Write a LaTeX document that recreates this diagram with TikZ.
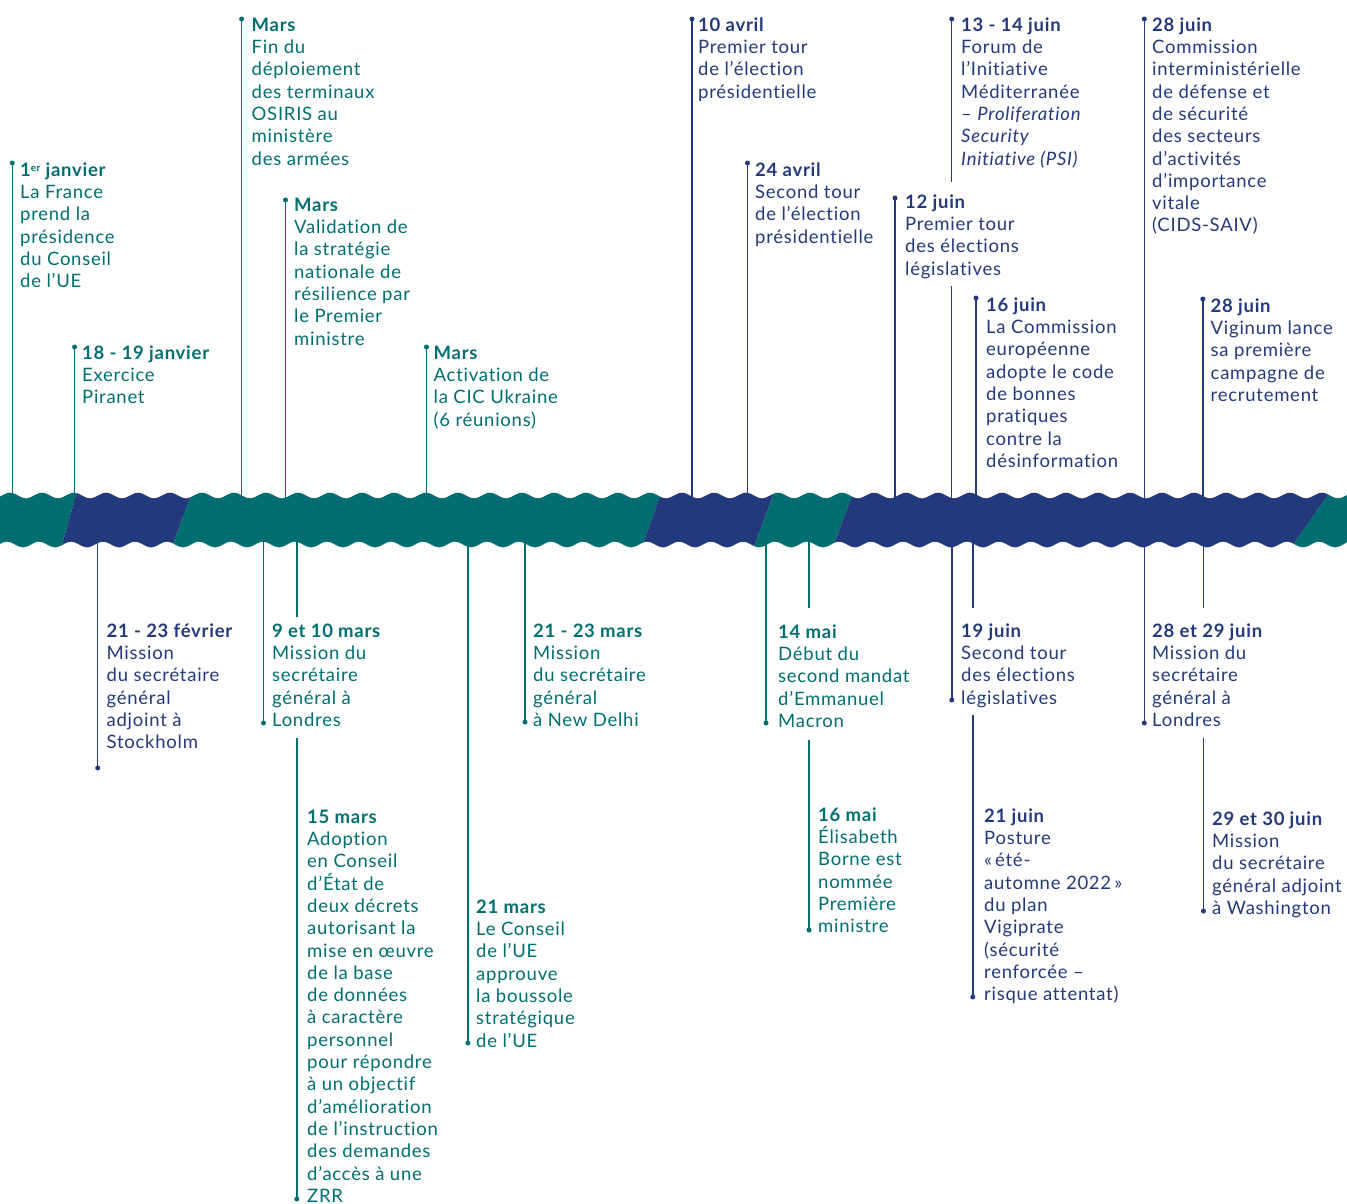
\documentclass[tikz,border=0pt]{standalone}
\usepackage{fontspec}
\setmainfont{Lato}[LetterSpace=4.0, Ligatures=NoCommon]
\definecolor{tlteal}{RGB}{0,110,112}
\definecolor{tlnavy}{RGB}{36,57,124}
\newcommand\tlsup[1]{\raisebox{4.5pt}{\fontsize{10}{10}\selectfont #1}}
\tikzset{
  tl/.style={line width=1.4pt},
  dotm/.style={circle, inner sep=0pt, minimum size=5pt},
  lbl/.style={anchor=north west, align=left, inner sep=0pt, font=\fontsize{18.5}{22.3}\selectfont},
  tc/.style={text=tlteal},
  nc/.style={text=tlnavy}
}
\begin{document}
\begin{tikzpicture}[x=1pt,y=-1pt]
\useasboundingbox (0,0) rectangle (1347,1203);

% ---------- connectors above the band ----------
\node[dotm, fill=tlteal] (d1) at (12.3,163) {};
\coordinate (e1) at (12.3,520);
\draw[tl, tlteal] (d1.center) -- (e1);

\node[dotm, fill=tlteal] (d2) at (74.6,347) {};
\coordinate (e2) at (74.6,520);
\draw[tl, tlteal] (d2.center) -- (e2);

\node[dotm, fill=tlteal] (d3) at (241.6,19) {};
\coordinate (e3) at (241.6,520);
\draw[tl, tlteal] (d3.center) -- (e3);

\node[dotm, fill=tlteal] (d4) at (285.5,200) {};
\coordinate (e4) at (285.5,520);
\draw[tl, tlteal] (d4.center) -- (e4);

\node[dotm, fill=tlteal] (d5) at (426.5,347) {};
\coordinate (e5) at (426.5,520);
\draw[tl, tlteal] (d5.center) -- (e5);

\node[dotm, fill=tlnavy] (d6) at (692,19) {};
\coordinate (e6) at (692,520);
\draw[tl, tlnavy] (d6.center) -- (e6);

\node[dotm, fill=tlnavy] (d7) at (747.5,163) {};
\coordinate (e7) at (747.5,520);
\draw[tl, tlnavy] (d7.center) -- (e7);

\node[dotm, fill=tlnavy] (d8) at (895,198) {};
\coordinate (e8) at (895,520);
\draw[tl, tlnavy] (d8.center) -- (e8);

\node[dotm, fill=tlnavy] (d9) at (951.7,19) {};
\coordinate (b9a) at (951.7,182);
\coordinate (b9b) at (951.7,286);
\coordinate (e9) at (951.7,520);
\draw[tl, tlnavy] (d9.center) -- (b9a);
\draw[tl, tlnavy] (b9b) -- (e9);

\node[dotm, fill=tlnavy] (d10) at (976,298) {};
\coordinate (e10) at (976,520);
\draw[tl, tlnavy] (d10.center) -- (e10);

\node[dotm, fill=tlnavy] (d11) at (1144.3,19) {};
\coordinate (e11) at (1144.3,520);
\draw[tl, tlnavy] (d11.center) -- (e11);

\node[dotm, fill=tlnavy] (d12) at (1202.8,299) {};
\coordinate (e12) at (1202.8,520);
\draw[tl, tlnavy] (d12.center) -- (e12);

% ---------- connectors below the band ----------
\coordinate (s13) at (97.7,520);
\node[dotm, fill=tlnavy] (d13) at (97.7,768) {};
\draw[tl, tlnavy] (s13) -- (d13.center);

\coordinate (s14) at (263.5,520);
\node[dotm, fill=tlteal] (d14) at (263.5,723) {};
\draw[tl, tlteal] (s14) -- (d14.center);

\coordinate (s15) at (296.8,520);
\coordinate (b15a) at (296.8,617);
\coordinate (b15b) at (296.8,738);
\node[dotm, fill=tlteal] (d15) at (296.8,1199) {};
\draw[tl, tlteal] (s15) -- (b15a);
\draw[tl, tlteal] (b15b) -- (d15.center);

\coordinate (s16) at (467.8,520);
\node[dotm, fill=tlteal] (d16) at (467.8,1043) {};
\draw[tl, tlteal] (s16) -- (d16.center);

\coordinate (s17) at (525,520);
\node[dotm, fill=tlteal] (d17) at (525,722) {};
\draw[tl, tlteal] (s17) -- (d17.center);

\coordinate (s18) at (766,520);
\node[dotm, fill=tlteal] (d18) at (766,723) {};
\draw[tl, tlteal] (s18) -- (d18.center);

\coordinate (s19) at (809,520);
\coordinate (b19a) at (809,608);
\coordinate (b19b) at (809,740);
\node[dotm, fill=tlteal] (d19) at (809,930) {};
\draw[tl, tlteal] (s19) -- (b19a);
\draw[tl, tlteal] (b19b) -- (d19.center);

\coordinate (s20) at (951.8,520);
\node[dotm, fill=tlnavy] (d20) at (951.8,700) {};
\draw[tl, tlnavy] (s20) -- (d20.center);

\coordinate (s21) at (972.8,520);
\coordinate (b21a) at (972.8,608);
\coordinate (b21b) at (972.8,715);
\node[dotm, fill=tlnavy] (d21) at (972.8,997) {};
\draw[tl, tlnavy] (s21) -- (b21a);
\draw[tl, tlnavy] (b21b) -- (d21.center);

\coordinate (s22) at (1144.3,520);
\node[dotm, fill=tlnavy] (d22) at (1144.3,723) {};
\draw[tl, tlnavy] (s22) -- (d22.center);

\coordinate (s23) at (1203.5,520);
\coordinate (b23a) at (1203.5,608);
\coordinate (b23b) at (1203.5,738);
\node[dotm, fill=tlnavy] (d23) at (1203.5,911) {};
\draw[tl, tlnavy] (s23) -- (b23a);
\draw[tl, tlnavy] (b23b) -- (d23.center);

% ---------- wavy band ----------
\begin{scope}
\path[clip] plot[domain=0:1347, samples=700] (\x, {495.5-2.8*cos(11.25*(\x-10))})
  -- plot[domain=1347:0, samples=700] (\x, {544.5+2.8*cos(11.25*(\x-23))}) -- cycle;
\fill[tlteal] (-5,485) -- (79,485) -- (59,555) -- (-5,555) -- cycle;
\fill[tlnavy] (79,485) -- (195,485) -- (169,555) -- (59,555) -- cycle;
\fill[tlteal] (195,485) -- (664,485) -- (639,555) -- (169,555) -- cycle;
\fill[tlnavy] (664,485) -- (777,485) -- (751,555) -- (639,555) -- cycle;
\fill[tlteal] (777,485) -- (856,485) -- (830,555) -- (751,555) -- cycle;
\fill[tlnavy] (856,485) -- (1335,485) -- (1286,555) -- (830,555) -- cycle;
\fill[tlteal] (1335,485) -- (1352,485) -- (1352,555) -- (1286,555) -- cycle;
\end{scope}

% ---------- labels above ----------
\node[lbl, tc] (t1) at (20,158) {\rule{0pt}{18pt}\textbf{1\tlsup{er} janvier}\\La France\\prend la\\présidence\\du Conseil\\de l’UE};
\node[lbl, tc] (t2) at (82,341) {\rule{0pt}{18pt}\textbf{18 - 19 janvier}\\Exercice\\Piranet};
\node[lbl, tc] (t3) at (251.5,13) {\rule{0pt}{18pt}\textbf{Mars}\\Fin du\\déploiement\\des terminaux\\OSIRIS au\\ministère\\des armées};
\node[lbl, tc] (t4) at (294,193) {\rule{0pt}{18pt}\textbf{Mars}\\Validation de\\la stratégie\\nationale de\\résilience par\\le Premier\\ministre};
\node[lbl, tc] (t5) at (433.5,341) {\rule{0pt}{18pt}\textbf{Mars}\\Activation de\\la CIC Ukraine\\(6 réunions)};
\node[lbl, nc] (t6) at (698,13) {\rule{0pt}{18pt}\textbf{10 avril}\\Premier tour\\de l’élection\\présidentielle};
\node[lbl, nc] (t7) at (755,158) {\rule{0pt}{18pt}\textbf{24 avril}\\Second tour\\de l’élection\\présidentielle};
\node[lbl, nc] (t8) at (905,190) {\rule{0pt}{18pt}\textbf{12 juin}\\Premier tour\\des élections\\législatives};
\node[lbl, nc] (t9) at (961,13) {\rule{0pt}{18pt}\textbf{13 - 14 juin}\\Forum de\\l’Initiative\\Méditerranée\\– \textit{Proliferation}\\\textit{Security}\\\textit{Initiative (PSI)}};
\node[lbl, nc] (t10) at (986,293) {\rule{0pt}{18pt}\textbf{16 juin}\\La Commission\\européenne\\adopte le code\\de bonnes\\pratiques\\contre la\\désinformation};
\node[lbl, nc] (t11) at (1152,13) {\rule{0pt}{18pt}\textbf{28 juin}\\Commission\\interministérielle\\de défense et\\de sécurité\\des secteurs\\d’activités\\d’importance\\vitale\\(CIDS-SAIV)};
\node[lbl, nc] (t12) at (1210.5,294) {\rule{0pt}{18pt}\textbf{28 juin}\\Viginum lance\\sa première\\campagne de\\recrutement};

% ---------- labels below ----------
\node[lbl, nc] (t13) at (106.5,619) {\rule{0pt}{18pt}\textbf{21 - 23 février}\\Mission\\du secrétaire\\général\\adjoint à\\Stockholm};
\node[lbl, tc] (t14) at (272,619) {\rule{0pt}{18pt}\textbf{9 et 10 mars}\\Mission du\\secrétaire\\général à\\Londres};
\node[lbl, tc] (t15) at (307,805) {\rule{0pt}{18pt}\textbf{15 mars}\\Adoption\\en Conseil\\d’État de\\deux décrets\\autorisant la\\mise en œuvre\\de la base\\de données\\à caractère\\personnel\\pour répondre\\à un objectif\\d’amélioration\\de l’instruction\\des demandes\\d’accès à une\\ZRR};
\node[lbl, tc] (t16) at (476,895) {\rule{0pt}{18pt}\textbf{21 mars}\\Le Conseil\\de l’UE\\approuve\\la boussole\\stratégique\\de l’UE};
\node[lbl, tc] (t17) at (533,619) {\rule{0pt}{18pt}\textbf{21 - 23 mars}\\Mission\\du secrétaire\\général\\à New Delhi};
\node[lbl, tc] (t18) at (778,620) {\rule{0pt}{18pt}\textbf{14 mai}\\Début du\\second mandat\\d’Emmanuel\\Macron};
\node[lbl, tc] (t19) at (818,803) {\rule{0pt}{18pt}\textbf{16 mai}\\Élisabeth\\Borne est\\nommée\\Première\\ministre};
\node[lbl, nc] (t20) at (961,619) {\rule{0pt}{18pt}\textbf{19 juin}\\Second tour\\des élections\\législatives};
\node[lbl, nc] (t21) at (984,804) {\rule{0pt}{18pt}\textbf{21 juin}\\Posture\\«\,été-\\automne 2022\,»\\du plan\\Vigiprate\\(sécurité\\renforcée –\\risque attentat)};
\node[lbl, nc] (t22) at (1152,619) {\rule{0pt}{18pt}\textbf{28 et 29 juin}\\Mission du\\secrétaire\\général à\\Londres};
\node[lbl, nc] (t23) at (1212,807) {\rule{0pt}{18pt}\textbf{29 et 30 juin}\\Mission\\du secrétaire\\général adjoint\\à Washington};
\end{tikzpicture}
\end{document}
